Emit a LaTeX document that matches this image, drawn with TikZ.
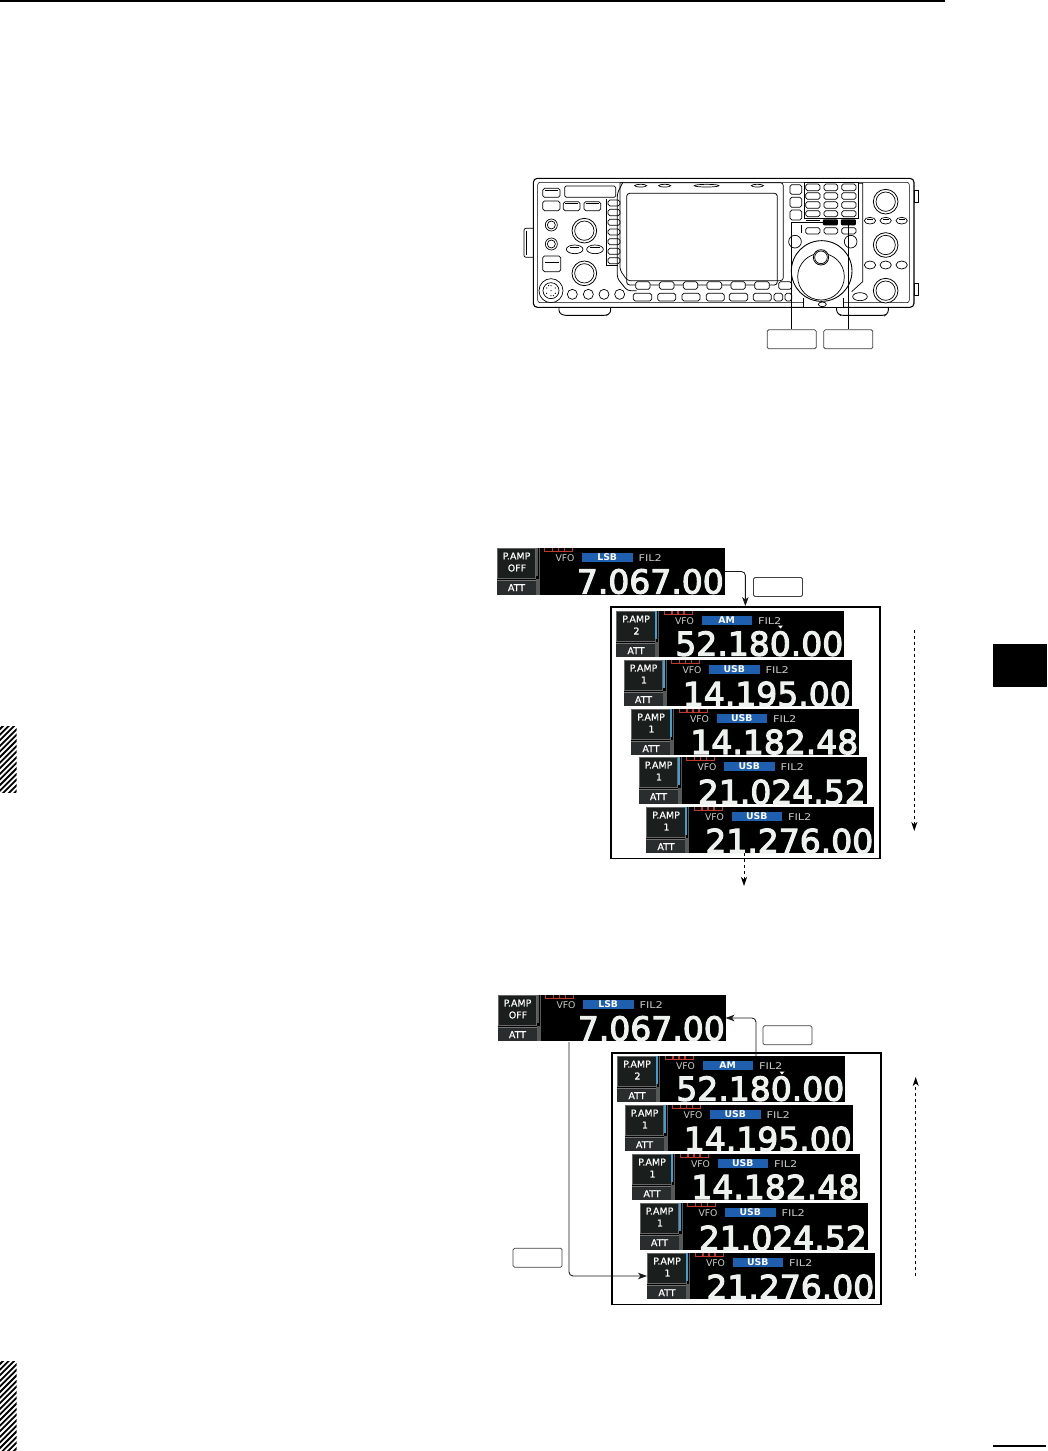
\documentclass[tikz,border=0pt]{standalone}
\usepackage{graphicx}
\usepackage{fontspec}
\setmainfont{DejaVu Sans}
\newfontfamily\freqf{DejaVu Sans}[FakeBold=3.2]
\newfontfamily\smallf{DejaVu Sans}[FakeBold=0.6]
\usetikzlibrary{arrows.meta}
\definecolor{scrblue}{HTML}{1F5FB0}
\definecolor{barblue}{HTML}{3F9FD0}
\definecolor{bargray}{HTML}{555A58}
\definecolor{btndark}{HTML}{1A1F1E}
\definecolor{btnatt}{HTML}{2A2D2D}
\definecolor{txred}{HTML}{C0392F}
\definecolor{scrtxt}{HTML}{C8CCC8}
\definecolor{digit}{HTML}{EEF2EE}
\tikzset{
  panelbg/.style={fill=black,draw=none,inner sep=0pt,outer sep=0pt,anchor=north west,minimum width=228pt},
  stxt/.style={inner sep=0pt,outer sep=0pt,text=white,font=\smallf\fontsize{9.5}{10}\selectfont},
  dtxt/.style={inner sep=0pt,outer sep=0pt,text=scrtxt,font=\fontsize{9.3}{10}\selectfont},
  flow/.style={line width=0.85pt,draw=black!90,rounded corners=4pt,-{Stealth[length=9pt,width=6.5pt,inset=2.5pt]}},
  dashflow/.style={line width=0.8pt,draw=black,dash pattern=on 3pt off 3pt,-{Stealth[length=9pt,width=6pt,inset=2.5pt]}},
  lblbox/.style={draw=black!75,fill=white,line width=0.75pt,rounded corners=1.5pt,inner sep=0pt,minimum width=49pt,minimum height=19pt},
  lead/.style={line width=0.75pt,draw=black},
  rl/.style={line width=0.7pt,draw=black,fill=white},
  rt/.style={line width=0.7pt,draw=black},
  keyblack/.style={fill=black,draw=none,inner sep=0pt,rounded corners=1pt,minimum width=15pt,minimum height=6pt},
  groupframe/.style={draw=black,line width=1.7pt,fill=none,inner sep=0pt,minimum width=269pt,minimum height=251.5pt,anchor=north west}
}
% name x y h baseline-offset line2 mode freq barcolor
\newcommand{\dpanel}[9]{%
  \node[panelbg,minimum height=#4 pt] (#1) at (#2,#3) {};
  \begin{scope}[shift={(#2,#3)}]
    \fill[btndark,draw=black!60,line width=0.4pt] (0.3,0.3) rectangle (39,30);
    \fill[btnatt] (0.3,32) rectangle (39,#4);
    \draw[white!45!black,line width=0.5pt] (0.3,32.3) -- (39,32.3);
    \fill[#9] (39,0) rectangle (41.2,28);
    \fill[bargray] (39,31) rectangle (42,#4);
    \fill[bargray] (42.3,0) rectangle (43,#4);
    \begin{scope}
      \clip (44,0) rectangle (228,#4);
      \draw[txred,line width=0.9pt] (48,-1) -- (48,3.3) -- (76,3.3) -- (76,-1);
      \foreach \tk in {56,62,68} \fill[txred] (\tk-0.7,0.4) rectangle (\tk+0.7,3);
      \node[anchor=base east,inner sep=0pt,text=digit,font=\freqf\fontsize{33}{36}\selectfont] (#1-f) at (227.5,#5) {#8};
    \end{scope}
    \node[stxt] (#1-p) at (20,8) {P.AMP};
    \node[stxt] (#1-l) at (20.5,20) {#6};
    \node[stxt] (#1-a) at (20,39.7) {ATT};
    \node[dtxt,anchor=west] (#1-v) at (59,9.7) {VFO};
    \fill[scrblue] (85.5,4.5) rectangle (136,13.5);
    \node[stxt,font=\bfseries\fontsize{9.3}{10}\selectfont] (#1-m) at (110.7,9) {#7};
    \node[dtxt,anchor=west] (#1-i) at (142,9.9) {\scalebox{1.22}[1]{FIL2}};
  \end{scope}
}
\newcommand{\rb}[4]{\draw[rl,rounded corners=1.8pt] (#1,#2) rectangle (#3,#4);}
\begin{document}
\begin{tikzpicture}[x=1pt,y=-1pt]
\useasboundingbox (0,0) rectangle (1047,1451);
\fill[white] (0,0) rectangle (1047,1451);
% page furniture
\fill[black] (0,0) rectangle (945,2);
\fill[black] (993,644) rectangle (1047,687);
\fill[black] (993,1445.4) rectangle (1046,1446.8);
\begin{scope}
  \clip (0,726) rectangle (16.7,792);
  \foreach \k in {0,...,16} \draw[black,line width=1.8pt] (-2,{731+5.6*\k}) -- (20,{731+5.6*\k-22});
\end{scope}
\begin{scope}
  \clip (0,1361) rectangle (16.7,1451);
  \foreach \k in {0,...,20} \draw[black,line width=1.8pt] (-2,{1366+5.6*\k}) -- (20,{1366+5.6*\k-22});
\end{scope}
% radio
\begin{scope}[shift={(490,170)},x=0.33333pt,y=-0.33333pt]
  \draw[rt,fill=white,rounded corners=2pt] (130,175) -- (102,175) -- (102,262) -- (130,262);
  \draw[rt] (110,182) -- (110,255);
  \draw[rt,fill=white] (1272,62) rectangle (1284,98);
  \draw[rt,fill=white] (1272,340) rectangle (1284,375);
  \draw[rt,line width=0.9pt,fill=white,rounded corners=2.5pt] (207,412) -- (207,428) -- (220,436) -- (350,436) -- (362,428) -- (362,412);
  \draw[rt,line width=0.9pt,fill=white,rounded corners=2.5pt] (1040,412) -- (1040,428) -- (1052,436) -- (1185,436) -- (1195,428) -- (1195,412);
  \draw[rt,line width=1.1pt,fill=white,rounded corners=4pt] (130,25) rectangle (1272,412);
  \draw[rt,rounded corners=2.5pt,line width=0.55pt] (143,37) rectangle (1258,398);
  % top left
  \rb{158}{55}{210}{82} \draw[rt] (165,62) -- (203,62);
  \draw[rl,rounded corners=1.5pt] (224,48) rectangle (377,82);
  \rb{158}{93}{210}{122}
  \rb{220}{95}{270}{122} \draw[rt] (226,101) -- (264,101);
  \rb{282}{95}{332}{122} \draw[rt] (288,101) -- (326,101);
  \draw[rt] (350,87) -- (350,285) -- (385,285);
  \foreach \a/\b in {90/108,118/137,148/166,177/195,206/224,235/253,263/281} {\rb{354}{\a}{390}{\b}}
  % left knobs
  \draw[rl] (184,165) circle[radius=18]; \draw[rt] (184,165) circle[radius=12];
  \draw[rl] (184,222) circle[radius=18]; \draw[rt] (184,222) circle[radius=12];
  \draw[rl,line width=0.8pt] (283,182) circle[radius=37]; \draw[rt] (283,182) circle[radius=29];
  \draw[rl] (254,238) ellipse[x radius=25,y radius=13]; \draw[rt] (240,232) -- (268,232);
  \draw[rl] (315,238) ellipse[x radius=25,y radius=13]; \draw[rt] (301,232) -- (329,232);
  \rb{158}{258}{212}{305} \draw[rt] (164,278) -- (206,278);
  \draw[rl,line width=0.8pt] (283,310) circle[radius=37]; \draw[rt] (283,310) circle[radius=29];
  \draw[rl] (183,362) circle[radius=36]; \draw[rt] (183,362) circle[radius=24];
  \foreach \dx/\dy in {0/0,-13/-8,13/-8,-13/8,13/8,0/-15,0/15,-7/-15,7/15} \fill[black] (183+\dx,362+\dy) circle[radius=1.8];
  \foreach \cx in {247,295,342,389} {\draw[rl] (\cx,373) circle[radius=15];}
  % display
  \draw[rt,line width=0.8pt,rounded corners=3pt] (398,38) -- (382,70) -- (382,325) -- (412,362) -- (440,362);
  \draw[rt,rounded corners=3pt] (390,38) -- (880,38) -- (880,332) -- (412,332) -- (390,300) -- (390,38);
  \draw[rt,line width=0.8pt,rounded corners=3pt] (410,70) rectangle (862,345);
  \foreach \cx/\w in {452/18,524/18,650/37,802/18} {\draw[rl] (\cx,47) ellipse[x radius=\w,y radius=4];}
  \foreach \a/\b in {437/480,508/552,580/623,651/695,723/766,794/838,866/905} {\rb{\a}{335}{\b}{358}}
  \foreach \a/\b in {430/485,503/557,576/630,649/703,718/773,790/844,852/878,885/905} {\rb{\a}{370}{\b}{393}}
  % keypad
  \rb{900}{44}{935}{73} \rb{900}{82}{935}{112} \rb{900}{120}{935}{150}
  \foreach \a/\b in {42/62,68/88,95/115,122/140,173/192} {
    \rb{947}{\a}{990}{\b} \rb{1002}{\a}{1043}{\b} \rb{1055}{\a}{1098}{\b}
  }
  \draw[rt] (942,38) rectangle (1104,145);
  \draw[rt] (947,150) -- (990,150);
  \draw[rt] (935,165) -- (935,190);
  \draw[rl] (915,215) circle[radius=19];
  \draw[rl] (1082,215) circle[radius=19];
  \draw[rt] (1104,40) -- (1118,40) -- (1118,335) -- (1085,365);
  % dial
  \draw[rt,fill=white] (940,385) -- (940,412) -- (1060,412) -- (1060,385);
  \draw[rl,line width=0.9pt] (995,303) circle[radius=91];
  \draw[rt] (993,320) circle[radius=70];
  \draw[rl,line width=0.8pt] (993,262) circle[radius=23];
  \draw[rt] (993,262) circle[radius=19];
  \draw[rl] (997,403) ellipse[x radius=12,y radius=7];
  % right knobs
  \draw[rl,line width=0.8pt] (1187,95) circle[radius=37]; \draw[rt] (1187,95) circle[radius=29];
  \draw[rl,line width=0.8pt] (1187,225) circle[radius=37]; \draw[rt] (1187,225) circle[radius=29];
  \draw[rl,line width=0.8pt] (1187,362) circle[radius=37]; \draw[rt] (1187,362) circle[radius=29];
  \foreach \cx in {1140,1187,1235} {
    \draw[rl] (\cx,152) ellipse[x radius=17,y radius=10]; \draw[rt] (\cx-9,147) -- (\cx+9,147);
    \draw[rl] (\cx,285) ellipse[x radius=17,y radius=12];
  }
  \draw[rl] (1110,380) ellipse[x radius=22,y radius=12];
\end{scope}
\node[keyblack] (keyA) at (830.3,222.3) {};
\node[keyblack] (keyB) at (848.3,222.3) {};
\node[lblbox] (lblA) at (791.7,339.3) {};
\node[lblbox] (lblB) at (848.3,339.3) {};
\draw[lead] (keyA.west) -| (lblA.north);
\draw[lead] (keyB.center) -- (lblB.north);
% upper sequence
\dpanel{p0}{496.5}{548}{47}{45.5}{OFF}{LSB}{7.067.00}{bargray}
\node[groupframe] (fa) at (610,606) {};
\dpanel{p1}{616}{611}{46}{44.7}{2}{AM}{52.180.00}{barblue}
\dpanel{p2}{623.5}{660}{46}{46}{1}{USB}{14.195.00}{barblue}
\dpanel{p3}{631}{709}{46}{45}{1}{USB}{14.182.48}{barblue}
\dpanel{p4}{638.5}{757}{47}{47}{1}{USB}{21.024.52}{barblue}
\dpanel{p5}{646}{807}{46}{46}{1}{USB}{21.276.00}{barblue}
\fill[white] (778,625.5) -- (783,625.5) -- (780.5,628.5) -- cycle;
\node[lblbox] (lblC) at (778,587) {};
\draw[flow] (p0.east) -| (fa.north);
\coordinate (dA1) at (914.3,630);
\coordinate (dA2) at (914.3,831);
\draw[dashflow] (dA1) -- (dA2);
\coordinate (dB1) at (744,853);
\coordinate (dB2) at (744,886);
\draw[dashflow] (dB1) -- (dB2);
% lower sequence
\dpanel{q0}{497.5}{995}{46}{45.5}{OFF}{LSB}{7.067.00}{bargray}
\node[groupframe] (fb) at (611,1052) {};
\dpanel{q1}{617}{1056}{46}{44.7}{2}{AM}{52.180.00}{barblue}
\dpanel{q2}{624.5}{1105}{46}{46}{1}{USB}{14.195.00}{barblue}
\dpanel{q3}{632}{1154}{46}{45}{1}{USB}{14.182.48}{barblue}
\dpanel{q4}{639.5}{1203}{47}{47}{1}{USB}{21.024.52}{barblue}
\dpanel{q5}{647}{1253}{46}{46}{1}{USB}{21.276.00}{barblue}
\fill[white] (779.5,1071.5) -- (784.5,1071.5) -- (782,1074.5) -- cycle;
\node[lblbox] (lblD) at (787.5,1035.3) {};
\node[lblbox] (lblE) at (537.6,1257.7) {};
\coordinate (uA) at (756,1056);
\draw[flow] (uA) |- (q0.east);
\coordinate (uB) at (569,1042);
\draw[flow] (uB) |- (q5.west);
\coordinate (dC1) at (915.7,1276);
\coordinate (dC2) at (915.7,1077);
\draw[dashflow] (dC1) -- (dC2);
\end{tikzpicture}
\end{document}
